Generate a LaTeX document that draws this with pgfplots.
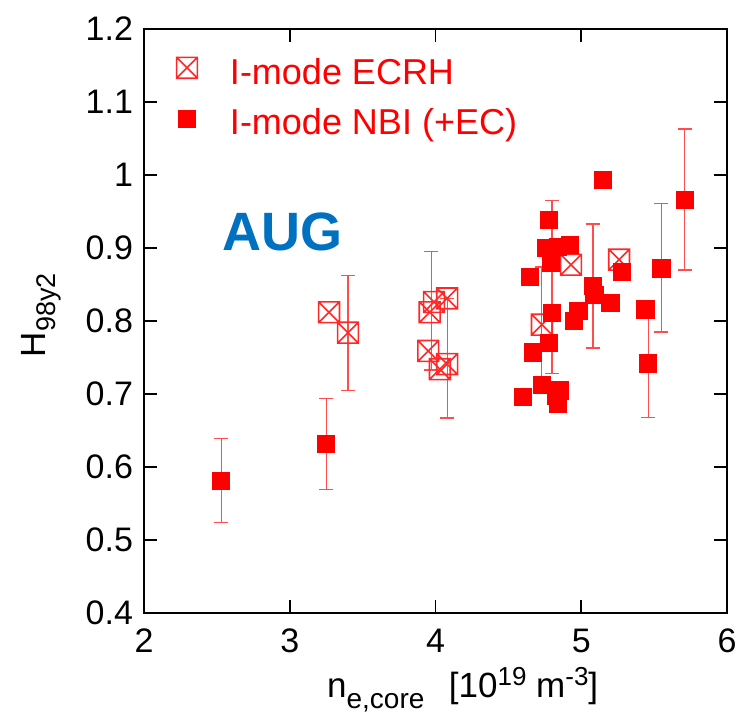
\documentclass[border=0pt]{standalone}
\usepackage{pgfplots}
\pgfplotsset{compat=1.18}
\usepackage{fontspec}
\setmainfont{Liberation Sans}
\definecolor{augblue}{RGB}{0,112,192}
\definecolor{ecred}{RGB}{255,40,40}
\pgfdeclareplotmark{boxx}{%
  \pgfpathrectangle{\pgfpoint{-\pgfplotmarksize}{-\pgfplotmarksize}}{\pgfpoint{2\pgfplotmarksize}{2\pgfplotmarksize}}%
  \pgfpathmoveto{\pgfpoint{-\pgfplotmarksize}{-\pgfplotmarksize}}%
  \pgfpathlineto{\pgfpoint{\pgfplotmarksize}{\pgfplotmarksize}}%
  \pgfpathmoveto{\pgfpoint{-\pgfplotmarksize}{\pgfplotmarksize}}%
  \pgfpathlineto{\pgfpoint{\pgfplotmarksize}{-\pgfplotmarksize}}%
  \pgfusepathqstroke}
\begin{document}
\begin{tikzpicture}
\begin{axis}[
  at={(0,0)}, anchor=south west,
  scale only axis,
  width=291.5pt, height=292pt,
  xmin=2, xmax=6, ymin=0.4, ymax=1.2,
  xtick={2,3,4,5,6},
  ytick={0.4,0.5,0.6,0.7,0.8,0.9,1,1.1,1.2},
  yticklabels={0.4,0.5,0.6,0.7,0.8,0.9,1,1.1,1.2},
  tick align=inside,
  major tick length=6.5pt,
  axis line style={line width=0.9pt},
  every tick/.style={black, line width=0.9pt},
  /pgf/number format/assume math mode=true,
  tick label style={font=\fontsize{17}{20}\selectfont},
  xticklabel style={anchor=base, yshift=-20pt},
  yticklabel style={xshift=-2pt},
  xlabel={n\raisebox{-0.55ex}{\fontsize{14}{14}\selectfont e,core}\hspace{0.7em}[10\raisebox{0.7ex}{\fontsize{13}{13}\selectfont 19} m\raisebox{0.7ex}{\fontsize{13}{13}\selectfont -3}]},
  ylabel={H\raisebox{-0.55ex}{\fontsize{13.5}{14}\selectfont 98y2}},
  every axis x label/.style={at={(axis description cs:0.302,-0.1455)}, anchor=base west,
    font=\fontsize{17.5}{20}\selectfont},
  every axis y label/.style={at={(axis description cs:-0.176,0.51)}, rotate=90, anchor=center,
    font=\fontsize{17.5}{20}\selectfont},
  legend image code/.code={%
    \draw[#1] plot coordinates {(0pt,2.4pt)};
    \path[draw=none, fill=none] (-6pt,0pt) rectangle (21.5pt,12.6pt);},
  legend style={draw=none, fill=none, at={(axis description cs:0,1)}, anchor=north west,
    xshift=15.5pt, yshift=-9.2pt, inner sep=0pt, outer sep=0pt,
    nodes={inner sep=0pt, outer sep=0pt},
    font=\fontsize{18}{21}\selectfont, text=red, row sep=5.5pt},
  legend cell align=left,
]
% error bars
\addplot[forget plot, draw=none, mark=none,
  error bars/.cd, y dir=both, y explicit,
  error bar style={red!70, line width=0.6pt},
  error mark options={rotate=90, red!70, mark size=3.5pt, line width=0.6pt}]
coordinates {
(2.53,0.581) += (0,0.058) -= (0,0.057)
(3.25,0.632) += (0,0.062) -= (0,0.063)
(3.40,0.784) += (0,0.078) -= (0,0.079)
(3.97,0.812) += (0,0.083) -= (0,0.079)
(4.08,0.741) += (0,0.090) -= (0,0.074)
(4.73,0.795) += (0,0.079) -= (0,0.094)
(4.80,0.811) += (0,0.154) -= (0,0.083)
(5.08,0.848) += (0,0.085) -= (0,0.085)
(5.46,0.742) += (0,0.074) -= (0,0.074)
(5.55,0.872) += (0,0.089) -= (0,0.087)
(5.71,0.966) += (0,0.097) -= (0,0.096)
};
% ECRH
\addplot[only marks, mark=boxx, mark size=5.2pt, ecred, mark options={line width=0.8pt}]
coordinates {
(3.27,0.812) (3.40,0.784) (3.95,0.759) (3.96,0.812) (3.99,0.826)
(4.03,0.734) (4.08,0.831) (4.08,0.741) (4.73,0.795) (4.93,0.877) (5.26,0.884)
};
\addlegendentry{I-mode ECRH}
% NBI
\addplot[only marks, mark=square*, mark size=4.3pt, red, mark options={fill=red, draw=red}]
coordinates {
(2.53,0.581) (3.25,0.632) (4.60,0.696) (4.65,0.860) (4.67,0.757)
(4.73,0.712) (4.76,0.900) (4.78,0.938) (4.78,0.770) (4.79,0.880)
(4.80,0.811) (4.83,0.698) (4.84,0.902) (4.84,0.687) (4.85,0.705)
(4.92,0.904) (4.95,0.800) (4.98,0.814) (5.08,0.848) (5.09,0.836)
(5.15,0.993) (5.20,0.825) (5.28,0.867) (5.44,0.816) (5.46,0.742)
(5.55,0.872) (5.71,0.966)
};
\addlegendentry{I-mode NBI (+EC)}
\node[font=\bfseries\fontsize{27}{27}\selectfont, text=augblue] at (axis cs:2.95,0.922) {AUG};
\end{axis}
\pgfresetboundingbox
\path (-72pt,-49.5pt) rectangle (298pt,306.5pt);
\end{tikzpicture}
\end{document}
